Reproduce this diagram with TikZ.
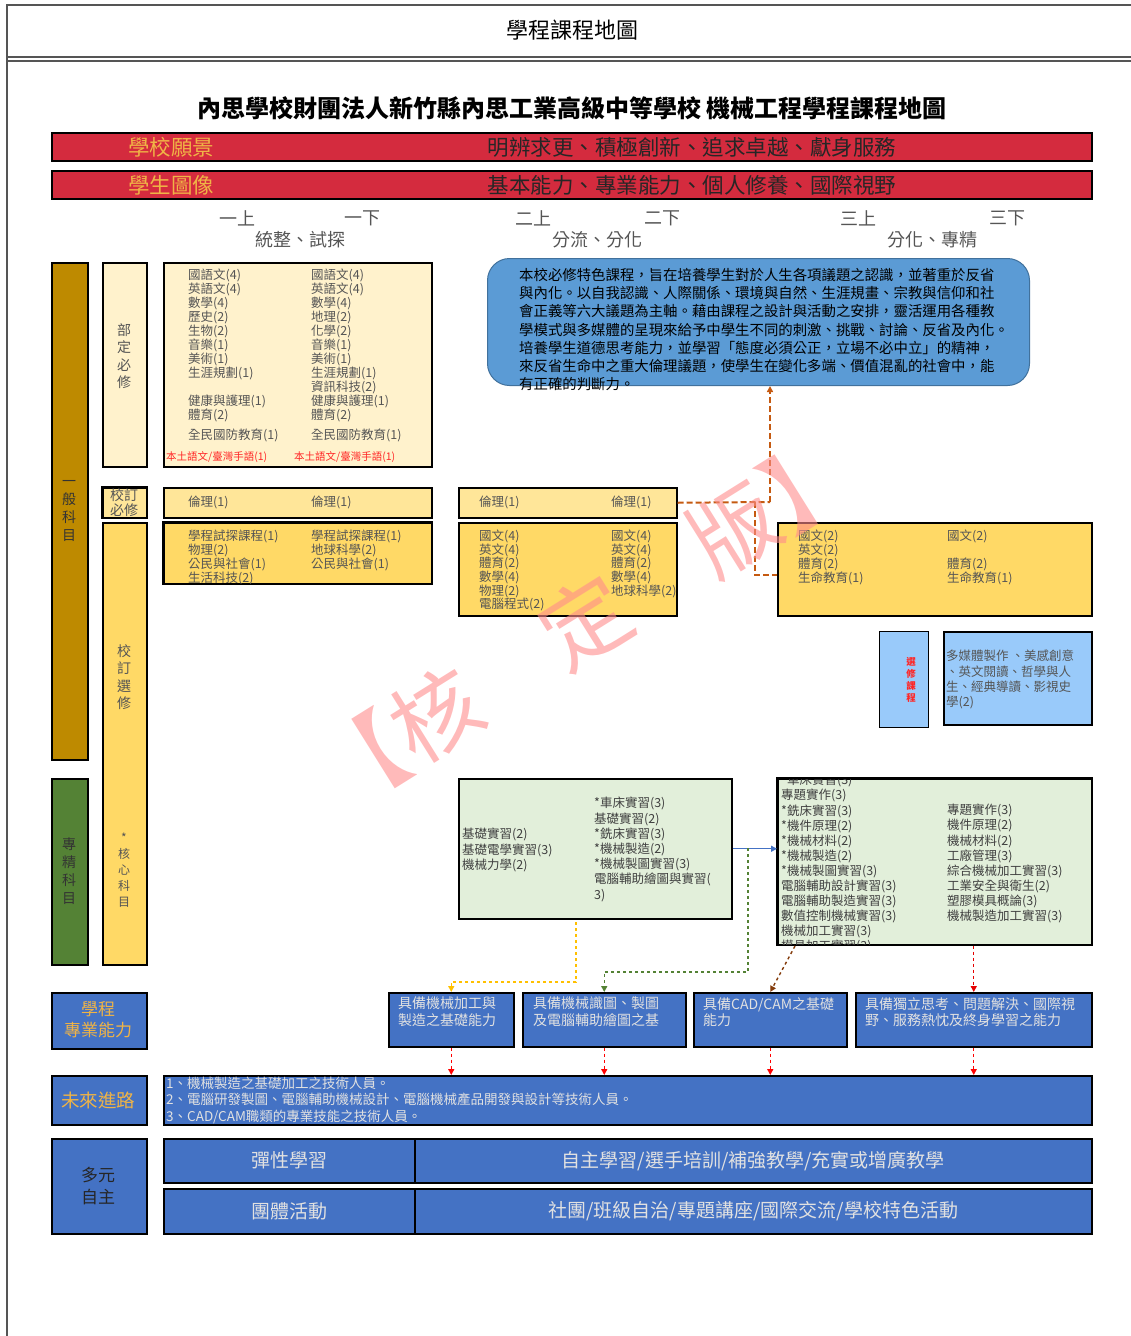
\documentclass[tikz,border=0pt]{standalone}
\usepackage{fontspec}
\setmainfont{Noto Sans CJK TC}
\usetikzlibrary{arrows.meta}

\definecolor{framegrey}{RGB}{85,85,85}
\definecolor{visred}{RGB}{212,43,62}
\definecolor{gold}{RGB}{240,180,70}
\definecolor{genbrown}{RGB}{190,138,0}
\definecolor{specgreen}{RGB}{84,130,53}
\definecolor{cream}{RGB}{255,242,204}
\definecolor{lightyel}{RGB}{255,230,153}
\definecolor{yel}{RGB}{255,217,102}
\definecolor{bubblue}{RGB}{91,155,213}
\definecolor{bubedge}{RGB}{65,113,156}
\definecolor{lightgreen}{RGB}{226,239,218}
\definecolor{elecblue}{RGB}{153,202,250}
\definecolor{darkblue}{RGB}{68,114,196}
\definecolor{txtgrey}{RGB}{85,85,85}
\definecolor{pathtxt}{RGB}{225,225,225}
\definecolor{odash}{RGB}{197,90,17}
\definecolor{ydash}{RGB}{255,192,0}
\definecolor{gdash}{RGB}{84,130,53}
\definecolor{bdash}{RGB}{132,60,12}

\tikzset{
  box/.style={draw=black, line width=1.5pt, inner sep=0pt, anchor=north west},
  list/.style={anchor=north west, align=left, inner sep=0pt, text=txtgrey,
    font=\fontsize{12.5}{14}\selectfont},
  vlabel/.style={align=center, inner sep=0pt, text=txtgrey,
    font=\fontsize{14}{17.5}\selectfont},
  sem/.style={inner sep=0pt, text=txtgrey, font=\fontsize{18}{20}\selectfont},
  bartxt/.style={inner sep=0pt, font=\fontsize{21.5}{23}\selectfont},
  abtxt/.style={anchor=north west, align=left, inner sep=0pt, text=pathtxt,
    font=\fontsize{14}{16.5}\selectfont},
  rowtxt/.style={inner sep=0pt, text=pathtxt, font=\fontsize{19}{21}\selectfont},
  link/.style={dashed, line width=1.4pt},
  tip/.style={-{Triangle[length=6pt,width=6pt]}},
}

\begin{document}
\begin{tikzpicture}[x=1pt, y=-1pt]
\useasboundingbox (0,0) rectangle (1131,1336);

% frame and header
\draw[line width=2pt, framegrey] (7,1336) -- (7,5) -- (1131,5);
\draw[line width=1.2pt, framegrey] (7,57) -- (1131,57);
\draw[line width=1.2pt, framegrey] (7,61) -- (1131,61);
\node[inner sep=0pt, font=\fontsize{22}{24}\selectfont] (hdr) at (572,30) {學程課程地圖};
\node[inner sep=0pt, font=\bfseries\fontsize{24}{26}\selectfont] (ttl) at (572,108)
  {內思學校財團法人新竹縣內思工業高級中等學校 機械工程學程課程地圖};

% vision bars
\node[box, fill=visred, minimum width=1040, minimum height=28] (vis) at (51,132) {};
\node[bartxt, text=gold] (visl) at (171,147) {學校願景};
\node[bartxt, text=black!85] (vist) at (692,147) {明辨求更、積極創新、追求卓越、獻身服務};
\node[box, fill=visred, minimum width=1040, minimum height=28] (img) at (51,170) {};
\node[bartxt, text=gold] (imgl) at (171,185) {學生圖像};
\node[bartxt, text=black!85] (imgt) at (692,185) {基本能力、專業能力、個人修養、國際視野};

% semesters
\node[sem] (s1a) at (237,218) {一上};
\node[sem] (s1b) at (362,218) {一下};
\node[sem] (s1) at (300,240) {統整、試探};
\node[sem] (s2a) at (533,218) {二上};
\node[sem] (s2b) at (662,218) {二下};
\node[sem] (s2) at (597,240) {分流、分化};
\node[sem] (s3a) at (858,218) {三上};
\node[sem] (s3b) at (1007,218) {三下};
\node[sem] (s3) at (932,240) {分化、專精};

% left column
\node[box, fill=genbrown, minimum width=36, minimum height=497] (gen) at (51,262) {};
\node[vlabel, text=black!80, font=\fontsize{14}{18}\selectfont] (genl) at (69,511) {一\\般\\科\\目};
\node[box, fill=specgreen, minimum width=36, minimum height=186] (spec) at (51,778) {};
\node[vlabel, text=black!80, font=\fontsize{14}{18}\selectfont] (specl) at (69,871) {專\\精\\科\\目};
\node[box, fill=cream, minimum width=44, minimum height=204] (bud) at (102,262) {};
\node[vlabel] (budl) at (124,356) {部\\定\\必\\修};
\node[box, fill=lightyel, minimum width=44, minimum height=30] (xbx) at (102,487) {};
\begin{scope}
\clip (xbx.north west) rectangle (xbx.south east);
\node[vlabel, anchor=north, font=\fontsize{14}{15}\selectfont] (xbxl) at (124,488) {校訂\\必修};
\end{scope}
\draw[line width=1.5pt] (xbx.north west) rectangle (xbx.south east);
\node[box, fill=yel, minimum width=44, minimum height=442] (xsel) at (102,522) {};
\node[vlabel] (xsell) at (124,677) {校\\訂\\選\\修};
\node[vlabel, font=\fontsize{12}{16}\selectfont] (core) at (124,870) {*\\核\\心\\科\\目};

% grade 1
\node[box, fill=cream, minimum width=268, minimum height=204] (bA) at (163,262) {};
\node[list] (bAa) at (188,269) {國語文(4)\\英語文(4)\\數學(4)\\歷史(2)\\生物(2)\\音樂(1)\\美術(1)\\生涯規劃(1)\\[14pt]健康與護理(1)\\體育(2)\\[6pt]全民國防教育(1)};
\node[list] (bAb) at (311,269) {國語文(4)\\英語文(4)\\數學(4)\\地理(2)\\化學(2)\\音樂(1)\\美術(1)\\生涯規劃(1)\\資訊科技(2)\\健康與護理(1)\\體育(2)\\[6pt]全民國防教育(1)};
\node[inner sep=0pt, anchor=west, text=red!85, font=\fontsize{10.5}{11}\selectfont] (bAc) at (166,457) {本土語文/臺灣手語(1)};
\node[inner sep=0pt, anchor=west, text=red!85, font=\fontsize{10.5}{11}\selectfont] (bAd) at (294,457) {本土語文/臺灣手語(1)};
\node[box, fill=lightyel, minimum width=268, minimum height=30] (bB) at (163,487) {};
\node[list, anchor=west] (bBa) at (188,502) {倫理(1)};
\node[list, anchor=west] (bBb) at (311,502) {倫理(1)};
\node[box, fill=yel, minimum width=268, minimum height=61] (bC) at (163,522) {};
\node[list] (bCa) at (188,530) {學程試探課程(1)\\物理(2)\\公民與社會(1)\\生活科技(2)};
\node[list] (bCb) at (311,530) {學程試探課程(1)\\地球科學(2)\\公民與社會(1)};
\draw[line width=1.5pt] (bC.north west) rectangle (bC.south east);

% grade 2
\node[box, fill=lightyel, minimum width=218, minimum height=30] (bD) at (458,487) {};
\node[list, anchor=west] (bDa) at (479,502) {倫理(1)};
\node[list, anchor=west] (bDb) at (611,502) {倫理(1)};
\node[box, fill=yel, minimum width=218, minimum height=93] (bE) at (458,522) {};
\node[list, font=\fontsize{12.5}{13.6}\selectfont] (bEa) at (479,530) {國文(4)\\英文(4)\\體育(2)\\數學(4)\\物理(2)\\電腦程式(2)};
\node[list, font=\fontsize{12.5}{13.6}\selectfont] (bEb) at (611,530) {國文(4)\\英文(4)\\體育(2)\\數學(4)\\地球科學(2)};

% grade 3
\node[box, fill=yel, minimum width=314, minimum height=93] (bF) at (777,522) {};
\node[list] (bFa) at (798,530) {國文(2)\\英文(2)\\體育(2)\\生命教育(1)};
\node[list] (bFb) at (947,530) {國文(2)\\[14pt]體育(2)\\生命教育(1)};

% feature course bubble
\node[box, fill=bubblue, draw=bubedge, line width=1pt, rounded corners=22,
  minimum width=542, minimum height=127] (bub) at (487,258) {};
\node[anchor=north west, align=left, inner sep=0pt, font=\fontsize{14.4}{18.2}\selectfont] (bubt) at (519,268)
  {本校必修特色課程，旨在培養學生對於人生各項議題之認識，並著重於反省\\
   與內化。以自我認識、人際關係、環境與自然、生涯規畫、宗教與信仰和社\\
   會正義等六大議題為主軸。藉由課程之設計與活動之安排，靈活運用各種教\\
   學模式與多媒體的呈現來給予中學生不同的刺激、挑戰、討論、反省及內化。\\
   培養學生道德思考能力，並學習「態度必須公正，立場不必中立」的精神，\\
   來反省生命中之重大倫理議題，使學生在變化多端、價值混亂的社會中，能\\
   有正確的判斷力。};

% ethics link
\coordinate (oup) at (770,502);
\coordinate (odn) at (755,502);
\coordinate (oend) at (777,575);
\draw[link, odash, line width=2pt, dash pattern=on 6pt off 3pt] (bD.east) -- (oup);
\draw[link, odash, line width=2pt, dash pattern=on 6pt off 3pt, tip] (oup) -- (oup |- bub.south);
\draw[link, odash, line width=2pt, dash pattern=on 6pt off 3pt] (odn) |- (oend);

% electives
\node[box, fill=elecblue, line width=1pt, minimum width=49, minimum height=96] (elecl) at (879,631) {};
\node[vlabel, text=red!85, font=\bfseries\fontsize{9.5}{12}\selectfont] (elecll) at (911,680) {選\\修\\課\\程};
\node[box, fill=elecblue, minimum width=148, minimum height=93] (elecr) at (943,631) {};
\node[list, font=\fontsize{12.5}{15.3}\selectfont] (elecrt) at (946,650) {多媒體製作 、美感創意\\、英文閱讀、哲學與人\\生、經典導讀、影視史\\學(2)};

% professional courses
\node[box, fill=lightgreen, minimum width=273, minimum height=140] (bG) at (458,778) {};
\node[list, text=black!75, font=\fontsize{12.5}{15.2}\selectfont] (bGa) at (462,828) {基礎實習(2)\\基礎電學實習(3)\\機械力學(2)};
\node[list, text=black!75, font=\fontsize{12.5}{15.2}\selectfont] (bGb) at (594,797) {*車床實習(3)\\基礎實習(2)\\*銑床實習(3)\\*機械製造(2)\\*機械製圖實習(3)\\電腦輔助繪圖與實習(\\3)};
\node[box, fill=lightgreen, minimum width=314, minimum height=166] (bH) at (777,778) {};
\begin{scope}
\clip (bH.north west) rectangle (bH.south east);
\node[list, text=black!75, font=\fontsize{12.5}{15.1}\selectfont] (bHa) at (781,774) {*車床實習(3)\\專題實作(3)\\*銑床實習(3)\\*機件原理(2)\\*機械材料(2)\\*機械製造(2)\\*機械製圖實習(3)\\電腦輔助設計實習(3)\\電腦輔助製造實習(3)\\數值控制機械實習(3)\\機械加工實習(3)\\模具加工實習(3)};
\node[list, text=black!75, font=\fontsize{12.5}{15.1}\selectfont] (bHb) at (947,804) {專題實作(3)\\機件原理(2)\\機械材料(2)\\工廠管理(3)\\綜合機械加工實習(3)\\工業安全與衛生(2)\\塑膠模具概論(3)\\機械製造加工實習(3)};
\end{scope}
\draw[line width=1.5pt] (bH.north west) rectangle (bH.south east);
\draw[line width=1.4pt, darkblue, tip] (bG.east) -- (bG.east -| bH.west);

% abilities
\node[box, fill=darkblue, minimum width=95, minimum height=56] (abl) at (51,992) {};
\node[vlabel, text=gold, font=\fontsize{17}{21}\selectfont] (ablt) at (98,1020) {學程\\專業能力};
\node[box, fill=darkblue, minimum width=125, minimum height=54] (ab1) at (388,992) {};
\node[abtxt] (ab1t) at (398,997) {具備機械加工與\\製造之基礎能力};
\node[box, fill=darkblue, minimum width=163, minimum height=54] (ab2) at (522,992) {};
\node[abtxt] (ab2t) at (533,997) {具備機械識圖、製圖\\及電腦輔助繪圖之基};
\node[box, fill=darkblue, minimum width=153, minimum height=54] (ab3) at (693,992) {};
\node[abtxt] (ab3t) at (703,997) {具備CAD/CAM之基礎\\能力};
\node[box, fill=darkblue, minimum width=236, minimum height=54] (ab4) at (855,992) {};
\node[abtxt] (ab4t) at (865,997) {具備獨立思考、問題解決、國際視\\野、服務熱忱及終身學習之能力};

% links to abilities
\coordinate (ytop) at (576,922);
\coordinate (gtop) at (748,848);
\draw[link, ydash, tip] (ytop) -- (576,982) -| (ab1.north);
\draw[link, gdash, tip] (gtop) -- (748,972) -| (ab2.north);
\draw[link, bdash, tip] (795,946) -- (ab3.north);
\draw[link, red!90!black, tip] (ab4.north |- bH.south) -- (ab4.north);

% future paths
\node[box, fill=darkblue, minimum width=95, minimum height=49] (futl) at (51,1075) {};
\node[inner sep=0pt, text=gold, font=\fontsize{18.5}{20}\selectfont] (futlt) at (98,1100) {未來進路};
\node[box, fill=darkblue, minimum width=928, minimum height=49] (fut) at (163,1075) {};
\node[anchor=north west, align=left, inner sep=0pt, text=pathtxt, font=\fontsize{13.5}{16.2}\selectfont] (futt) at (166,1077)
  {1、機械製造之基礎加工之技術人員。\\2、電腦研發製圖、電腦輔助機械設計、電腦機械產品開發與設計等技術人員。\\3、CAD/CAM職類的專業技能之技術人員。};
\foreach \a in {ab1,ab2,ab3,ab4}
{
   \draw[link, red, tip] (\a.south) -- (\a.south |- fut.north);
}

% diverse autonomy
\node[box, fill=darkblue, minimum width=95, minimum height=95] (dyl) at (51,1138) {};
\node[vlabel, text=black!85, font=\fontsize{17}{22}\selectfont] (dylt) at (98,1186) {多元\\自主};
\node[box, fill=darkblue, minimum width=251, minimum height=44] (fl1) at (163,1138) {};
\node[box, fill=darkblue, minimum width=677, minimum height=44] (fl2) at (414,1138) {};
\node[rowtxt] (fl1t) at (fl1) {彈性學習};
\node[rowtxt] (fl2t) at (fl2) {自主學習/選手培訓/補強教學/充實或增廣教學};
\node[box, fill=darkblue, minimum width=251, minimum height=45] (gr1) at (163,1188) {};
\node[box, fill=darkblue, minimum width=677, minimum height=45] (gr2) at (414,1188) {};
\node[rowtxt] (gr1t) at (gr1) {團體活動};
\node[rowtxt] (gr2t) at (gr2) {社團/班級自治/專題講座/國際交流/學校特色活動};

% watermark
\node[inner sep=0pt, rotate=32, text=red!45, opacity=0.6, font=\fontsize{88}{90}\selectfont] (wmk) at (585,622) {【核　定　版】};
\end{tikzpicture}
\end{document}
